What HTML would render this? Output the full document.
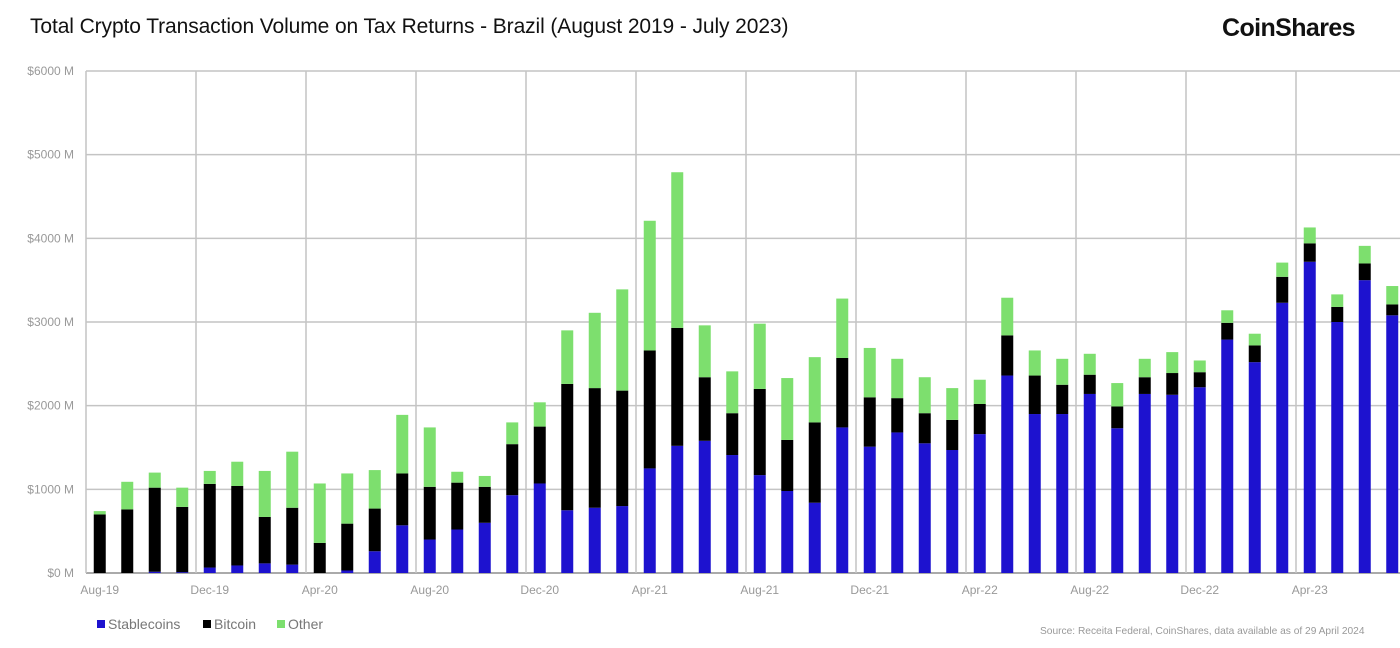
<!DOCTYPE html>
<html><head><meta charset="utf-8"><style>
body{margin:0;background:#fff;font-family:"Liberation Sans",sans-serif;}
#wrap{position:relative;width:1400px;height:648px;overflow:hidden;background:#fff}
.t{position:absolute;white-space:nowrap}
</style></head><body>
<div id="wrap">
<div class="t" style="left:30px;top:15px;font-size:21px;color:#111;letter-spacing:-0.1px">Total Crypto Transaction Volume on Tax Returns - Brazil (August 2019 - July 2023)</div>
<div class="t" style="left:1222px;top:14px;font-size:25px;font-weight:bold;color:#111;letter-spacing:-0.6px">CoinShares</div>
<svg id="chart" width="1400" height="648" style="position:absolute;left:0;top:0"></svg>
<div class="t" style="left:1040px;top:626px;font-size:10.2px;color:#999">Source: Receita Federal, CoinShares, data available as of 29 April 2024</div>
</div>
<script>
const months = ["Aug-19","Sep-19","Oct-19","Nov-19","Dec-19","Jan-20","Feb-20","Mar-20","Apr-20","May-20","Jun-20","Jul-20","Aug-20","Sep-20","Oct-20","Nov-20","Dec-20","Jan-21","Feb-21","Mar-21","Apr-21","May-21","Jun-21","Jul-21","Aug-21","Sep-21","Oct-21","Nov-21","Dec-21","Jan-22","Feb-22","Mar-22","Apr-22","May-22","Jun-22","Jul-22","Aug-22","Sep-22","Oct-22","Nov-22","Dec-22","Jan-23","Feb-23","Mar-23","Apr-23","May-23","Jun-23","Jul-23"];
const stablecoins = [0,0,15,10,65,90,115,100,0,30,260,570,400,520,600,930,1070,750,780,800,1250,1520,1580,1410,1170,980,840,1740,1510,1680,1550,1470,1660,2360,1900,1900,2140,1730,2140,2130,2220,2790,2520,3230,3720,3000,3500,3080];
const bitcoin = [700,760,1005,780,1000,950,555,680,360,560,510,620,630,560,430,610,680,1510,1430,1380,1410,1410,760,500,1030,610,960,830,590,410,360,360,360,480,460,350,230,260,200,260,180,200,200,310,220,180,200,130];
const other = [40,330,180,230,155,290,550,670,710,600,460,700,710,130,130,260,290,640,900,1210,1550,1860,620,500,780,740,780,710,590,470,430,380,290,450,300,310,250,280,220,250,140,150,140,170,190,150,210,220];
const yTicks = [0,1000,2000,3000,4000,5000,6000];
const yTickLabels = ["$0 M","$1000 M","$2000 M","$3000 M","$4000 M","$5000 M","$6000 M"];
const legendLabels = ["Stablecoins","Bitcoin","Other"];

const NS="http://www.w3.org/2000/svg", svg=document.getElementById('chart');
const L=86,R=1400,T=71,B=573,step=27.5,bw=12;
const y=v=>B-(v/6000)*(B-T);
const xc=i=>L+(i+0.5)*step;
function mk(t,a){const e=document.createElementNS(NS,t);for(const k in a)e.setAttribute(k,a[k]);svg.appendChild(e);return e;}
yTicks.forEach((v,i)=>{
  const g=mk('line',{x1:L,x2:R,y1:y(v),y2:y(v),stroke:i==0?'#aaa':'#c4c4c4','stroke-width':i==0?2:1.5});
  
  
  const t=mk('text',{x:74,y:y(v)+4,'text-anchor':'end','font-size':12,fill:'#999','font-family':'Liberation Sans'});
  t.textContent=yTickLabels[i];
  
  
});
for(let i=0;i<months.length;i+=4){
  const g=mk('line',{x1:L+i*step,x2:L+i*step,y1:T,y2:B,stroke:'#c4c4c4','stroke-width':1.5});
  
  
  const t=mk('text',{x:xc(i),y:594,'text-anchor':'middle','font-size':12,fill:'#999','font-family':'Liberation Sans'});
  t.textContent=months[i];
  
  
}
const series=[[stablecoins,'#1d12cf','stablecoins'],[bitcoin,'#000','bitcoin'],[other,'#7ddf6e','other']];
months.forEach((m,i)=>{
  let base=0;
  series.forEach(([arr,col,nm])=>{
    const v=arr[i];
    const r=mk('rect',{x:xc(i)-bw/2,y:y(base+v),width:bw,height:Math.max(0,y(base)-y(base+v)),fill:col});
    
    
    base+=v;
  });
});
const lc=['#1d12cf','#000','#7ddf6e'],lx=[97,203,277];
legendLabels.forEach((s,i)=>{
  const r=mk('rect',{x:lx[i],y:620,width:8,height:8,fill:lc[i]});
  
  
  const t=mk('text',{x:lx[i]+11,y:629,'font-size':14,fill:'#777','font-family':'Liberation Sans'});
  t.textContent=s;
  
  
});
</script>
</body></html>
